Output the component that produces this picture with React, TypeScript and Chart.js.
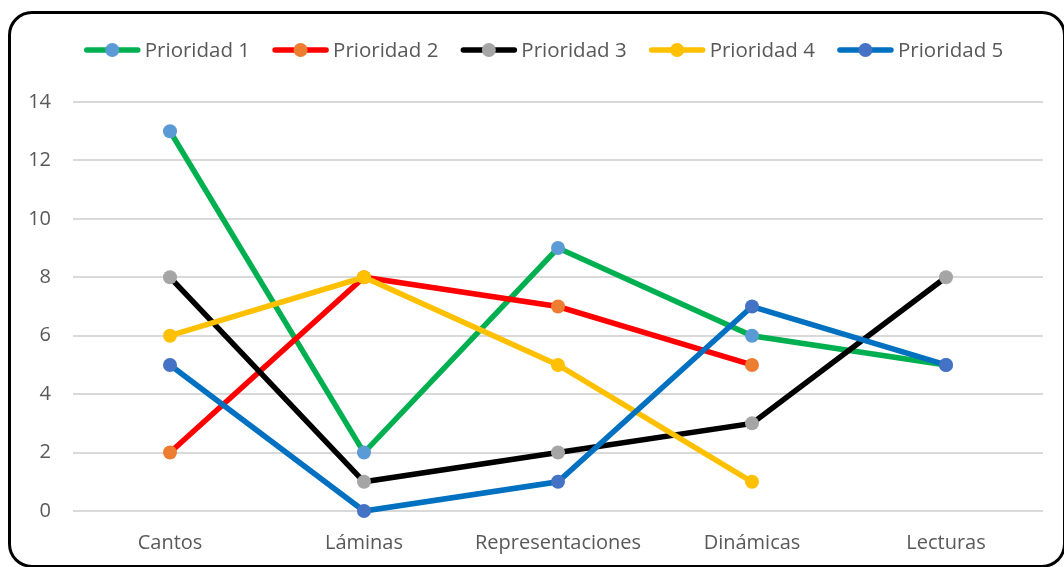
import React, { useEffect, useRef } from "react";
import { Chart, registerables } from "chart.js";

Chart.register(...registerables);

const categories = ["Cantos", "Láminas", "Representaciones", "Dinámicas", "Lecturas"];
const seriesNames = ["Prioridad 1", "Prioridad 2", "Prioridad 3", "Prioridad 4", "Prioridad 5"];
const prioridad1 = [13, 2, 9, 6, 5];
const prioridad2 = [2, 8, 7, 5, null];
const prioridad3 = [8, 1, 2, 3, 8];
const prioridad4 = [6, 8, 5, 1, null];
const prioridad5 = [5, 0, 1, 7, 5];
const lineColors = ["#00B050", "#FF0000", "#000000", "#FFC000", "#0070C0"];
const markerColors = ["#5B9BD5", "#ED7D31", "#A5A5A5", "#FFC000", "#4472C4"];
const yMin = 0;
const yMax = 14;
const yStep = 2;

const FONT = "'Open Sans', sans-serif";
const TEXT_COLOR = "#595959";

const customLegend = {
  id: "customLegend",
  afterDraw(chart: any) {
    const ctx = chart.ctx;
    const datasets = chart.data.datasets;
    const lineLen = 55;
    const gap = 5;
    const itemGap = 23;
    ctx.save();
    ctx.font = `20.5px ${FONT}`;
    const widths = datasets.map((d: any) => lineLen + gap + ctx.measureText(d.label).width);
    const total = widths.reduce((a: number, b: number) => a + b, 0) + itemGap * (datasets.length - 1);
    let x = 544 - total / 2;
    const y = 50;
    datasets.forEach((d: any, i: number) => {
      ctx.strokeStyle = d.borderColor;
      ctx.lineWidth = 5.5;
      ctx.lineCap = "round";
      ctx.beginPath();
      ctx.moveTo(x + 2, y);
      ctx.lineTo(x + lineLen - 2, y);
      ctx.stroke();
      ctx.fillStyle = d.pointBackgroundColor;
      ctx.beginPath();
      ctx.arc(x + lineLen / 2, y, 7, 0, Math.PI * 2);
      ctx.fill();
      ctx.fillStyle = TEXT_COLOR;
      ctx.textBaseline = "middle";
      ctx.textAlign = "left";
      ctx.fillText(d.label, x + lineLen + gap, y + 1);
      x += widths[i] + itemGap;
    });
    ctx.restore();
  },
};

export default function App() {
  const canvasRef = useRef<HTMLCanvasElement | null>(null);

  useEffect(() => {
    if (!canvasRef.current) return;
    const series = [prioridad1, prioridad2, prioridad3, prioridad4, prioridad5];
    const chart = new Chart(canvasRef.current, {
      type: "line",
      data: {
        labels: categories,
        datasets: series.map((values, i) => ({
          label: seriesNames[i],
          data: values,
          borderColor: lineColors[i],
          backgroundColor: lineColors[i],
          pointBackgroundColor: markerColors[i],
          pointBorderColor: markerColors[i],
          pointBorderWidth: 0,
          pointRadius: 7,
          pointHoverRadius: 7,
          borderWidth: 5.5,
          tension: 0,
          spanGaps: false,
          clip: false,
          order: series.length - i,
        })),
      },
      options: {
        responsive: false,
        animation: false,
        events: [],
        layout: { padding: { top: 102, right: 21, bottom: 0, left: 0 } },
        plugins: {
          legend: { display: false },
          tooltip: { enabled: false },
          title: { display: false },
        },
        scales: {
          x: {
            offset: true,
            grid: { display: false, drawTicks: false },
            border: { display: false },
            ticks: {
              color: TEXT_COLOR,
              font: { family: FONT, size: 20 },
              padding: 20,
              maxRotation: 0,
              autoSkip: false,
            },
            afterFit: (scale: any) => {
              scale.height = 56;
            },
          },
          y: {
            min: yMin,
            max: yMax,
            grid: { color: "#D9D9D9", lineWidth: 2, drawTicks: false },
            border: { display: false },
            ticks: {
              stepSize: yStep,
              color: TEXT_COLOR,
              font: { family: FONT, size: 20 },
              padding: 22,
            },
            afterFit: (scale: any) => {
              scale.width = 73;
            },
          },
        },
      },
      plugins: [customLegend],
    });
    return () => chart.destroy();
  }, []);

  return (
    <div style={{ position: "fixed", left: 0, top: 0, width: 1064, height: 567, overflow: "hidden", background: "#fff" }}>
      <canvas ref={canvasRef} width={1064} height={567} style={{ position: "absolute", left: 0, top: 0 }} />
      <div
        style={{
          position: "absolute",
          left: 8,
          top: 11,
          width: 1058,
          height: 557,
          boxSizing: "border-box",
          border: "3.5px solid #000",
          borderRadius: 24,
          pointerEvents: "none",
        }}
      />
    </div>
  );
}
